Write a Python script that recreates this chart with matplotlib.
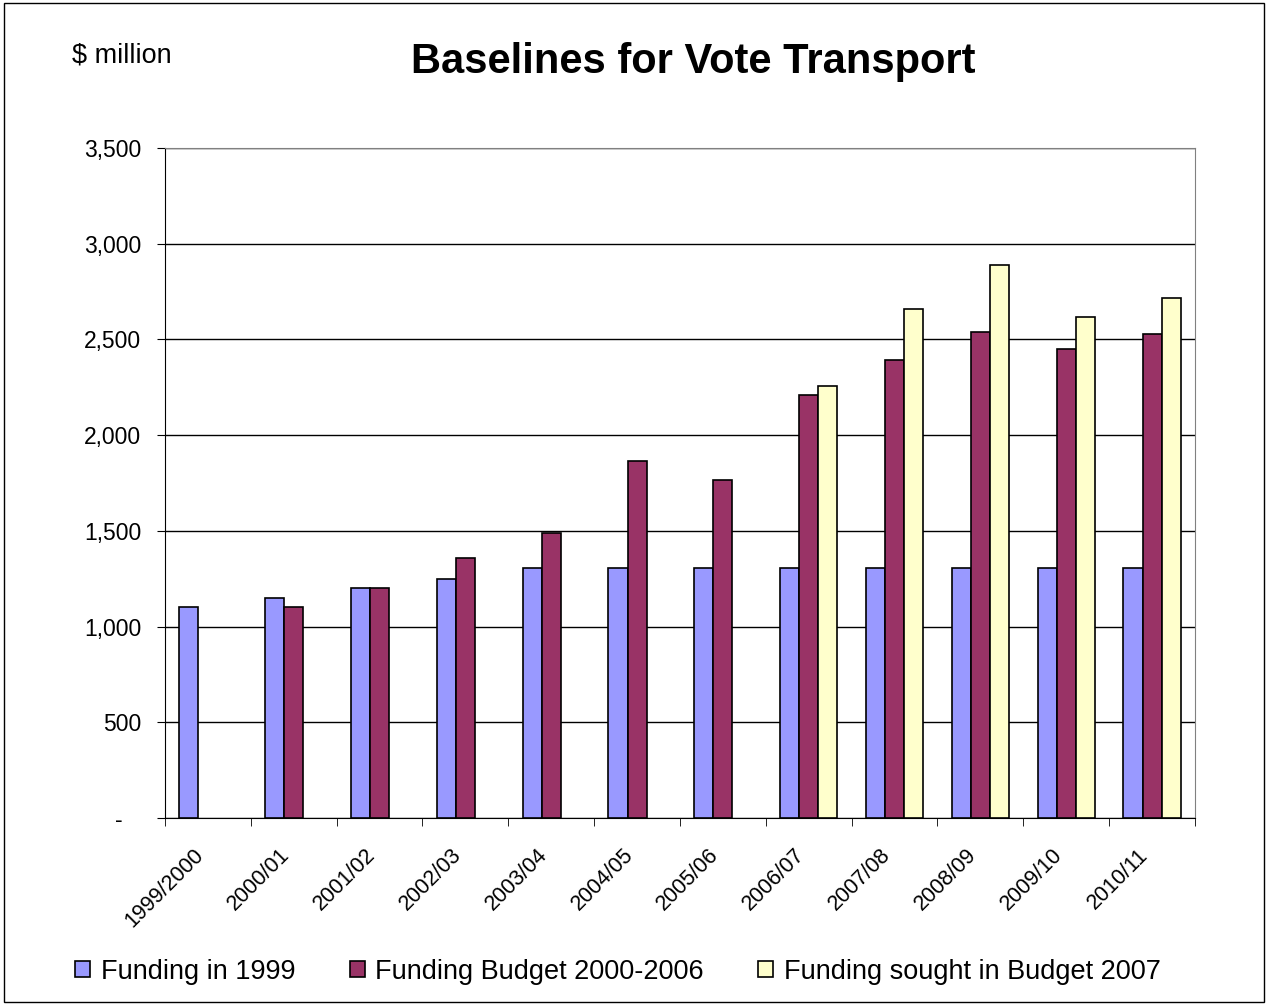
import matplotlib.pyplot as plt
import numpy as np
from matplotlib.patches import Rectangle

# データ
years = ["1999/2000", "2000/01", "2001/02", "2002/03", "2003/04", "2004/05",
         "2005/06", "2006/07", "2007/08", "2008/09", "2009/10", "2010/11"]
funding_1999 = [1100, 1150, 1200, 1250, 1305, 1305, 1305, 1305, 1305, 1305, 1305, 1305]
budget_2000_2006 = [np.nan, 1100, 1200, 1360, 1490, 1865, 1765, 2210, 2395, 2540, 2450, 2530]
sought_2007 = [np.nan] * 7 + [2255, 2660, 2890, 2615, 2715]

series_names = ["Funding in 1999", "Funding Budget 2000-2006", "Funding sought in Budget 2007"]
colors = ["#9999FF", "#993366", "#FFFFCC"]

plt.rcParams["font.family"] = ["Liberation Sans", "DejaVu Sans"]

fig = plt.figure(figsize=(12.68, 10.05), dpi=100)
ax = fig.add_axes([0.1301, 0.1861, 0.8123, 0.6666])

# 外枠
fig.patches.append(Rectangle((0.003, 0.003), 0.994, 0.994, transform=fig.transFigure,
                             fill=False, edgecolor="black", lw=1))

x = np.arange(len(years))
w = 0.222
for i, (vals, name, c) in enumerate(zip([funding_1999, budget_2000_2006, sought_2007],
                                        series_names, colors)):
    ax.bar(x + (i - 1) * w, vals, w, color=c, edgecolor="black", lw=1.2,
           label=name, zorder=3)

ax.set_xlim(-0.5, len(years) - 0.5)
ax.set_ylim(0, 3500)
ax.set_yticks(np.arange(0, 3501, 500))
ax.set_yticklabels(["-   "] + [f"{v:,}" for v in range(500, 3501, 500)], fontsize=16.5)
ax.grid(True, axis="y", color="black", lw=1, zorder=0)

# ラベルは少し左にずらす
ax.set_xticks(x - 0.17)
ax.set_xticklabels(years, rotation=45, ha="right", rotation_mode="anchor", fontsize=15.5)
ax.tick_params(axis="x", which="major", length=0, pad=19)
ax.set_xticks(np.arange(-0.5, len(years)), minor=True)
ax.tick_params(axis="x", which="minor", length=6, direction="out")
ax.tick_params(axis="y", length=6, direction="out", pad=11)

for s in ["top", "right"]:
    ax.spines[s].set_color("#808080")

fig.text(0.057, 0.945, "$ million", fontsize=19.5, va="center")
fig.text(0.547, 0.938, "Baselines for Vote Transport", fontsize=30, fontweight="bold",
         ha="center", va="center")

fig.legend(loc="center", bbox_to_anchor=(0.4874, 0.033), ncol=3, frameon=False,
           fontsize=19.5, handlelength=0.55, handleheight=0.55, handletextpad=0.4,
           columnspacing=2.0)

plt.savefig("out.png")
